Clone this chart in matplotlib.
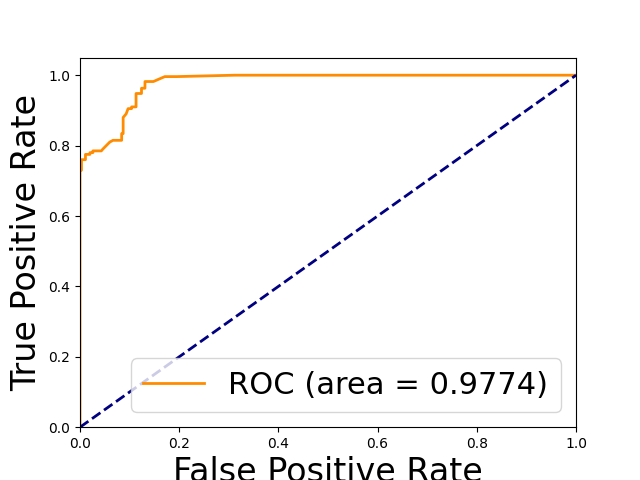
import numpy as np
import matplotlib
matplotlib.use("Agg")
import matplotlib.pyplot as plt

# ROC points
fpr = [0.0, 0.0, 0.003, 0.003, 0.011, 0.011, 0.020, 0.020, 0.026, 0.026,
       0.043, 0.046, 0.053, 0.060, 0.0665, 0.080, 0.084, 0.084, 0.087, 0.087,
       0.093, 0.097, 0.104, 0.104, 0.113, 0.113, 0.124, 0.124, 0.131, 0.131,
       0.148, 0.161, 0.171, 0.195, 0.312, 1.0]
tpr = [0.0, 0.73, 0.73, 0.76, 0.76, 0.775, 0.775, 0.78, 0.78, 0.785,
       0.785, 0.79, 0.80, 0.81, 0.815, 0.815, 0.815, 0.834, 0.834, 0.88,
       0.89, 0.905, 0.905, 0.91, 0.91, 0.948, 0.948, 0.963, 0.963, 0.982,
       0.982, 0.99, 0.996, 0.996, 1.0, 1.0]
roc_auc = 0.9774

plt.figure(figsize=(6.4, 4.8), dpi=100)
plt.plot(fpr, tpr, color="darkorange", lw=2, label="ROC (area = %0.4f)" % roc_auc)
plt.plot([0, 1], [0, 1], color="navy", lw=2, linestyle="--")
plt.xlim([0.0, 1.0])
plt.ylim([0.0, 1.05])
plt.xlabel("False Positive Rate", fontsize=24)
plt.ylabel("True Positive Rate", fontsize=24)
plt.legend(loc="lower right", fontsize=22)
plt.savefig("out.png")
